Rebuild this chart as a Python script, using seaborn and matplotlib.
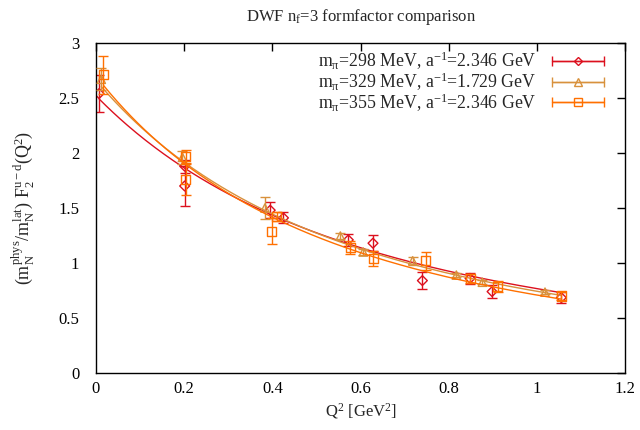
import numpy as np
import pandas as pd
import matplotlib
matplotlib.use("Agg")
import matplotlib.pyplot as plt
import matplotlib.ticker as ticker
import seaborn as sns
from matplotlib.lines import Line2D
from matplotlib.collections import LineCollection
from matplotlib.container import ErrorbarContainer
from matplotlib.legend_handler import HandlerErrorbar

# data (Q^2 in GeV^2, rescaled F2^{u-d})
q2_298 = [0.007, 0.201, 0.201, 0.395, 0.425, 0.572, 0.628, 0.740, 0.848, 0.898, 1.055]
f2_298 = [2.54, 1.88, 1.70, 1.48, 1.41, 1.21, 1.18, 0.84, 0.86, 0.74, 0.685]
err_298 = [0.17, 0.06, 0.18, 0.07, 0.05, 0.055, 0.07, 0.08, 0.05, 0.06, 0.05]

q2_329 = [0.012, 0.196, 0.383, 0.554, 0.606, 0.718, 0.817, 0.876, 1.018]
f2_329 = [2.67, 1.96, 1.50, 1.245, 1.10, 1.02, 0.89, 0.825, 0.735]
err_329 = [0.10, 0.06, 0.10, 0.03, 0.025, 0.035, 0.02, 0.02, 0.02]

q2_355 = [0.017, 0.203, 0.203, 0.398, 0.410, 0.576, 0.629, 0.748, 0.848, 0.911, 1.055]
f2_355 = [2.71, 1.97, 1.76, 1.29, 1.42, 1.14, 1.04, 1.02, 0.86, 0.79, 0.70]
err_355 = [0.17, 0.06, 0.14, 0.12, 0.04, 0.06, 0.065, 0.08, 0.04, 0.05, 0.04]

# dipole fit parameters F0 / (1 + Q^2/M^2)^2
fit_f0 = [2.52, 2.66, 2.70]
fit_m2 = [1.23, 1.12, 1.05]

labels = [
    r"m$_\mathregular{π}$=298 MeV, a$^\mathregular{-1}$=2.346 GeV",
    r"m$_\mathregular{π}$=329 MeV, a$^\mathregular{-1}$=1.729 GeV",
    r"m$_\mathregular{π}$=355 MeV, a$^\mathregular{-1}$=2.346 GeV",
]
colors = ["#dc101e", "#d8913c", "#ff7000"]
markers = ["D", "^", "s"]
msizes = [5.0, 6.0, 6.5]

sns.set_style("white")
plt.rcParams.update({
    "font.family": ["Liberation Serif", "DejaVu Serif"],
    "font.size": 12,
    "mathtext.fontset": "custom",
    "mathtext.rm": "Liberation Serif",
    "mathtext.it": "Liberation Serif:italic",
    "axes.linewidth": 1.0,
    "axes.edgecolor": "black",
})

fig = plt.figure(figsize=(6.4, 4.3), dpi=100)
ax = fig.add_axes([0.15, 0.1326, 0.827, 0.7674])

series = [(q2_298, f2_298, err_298), (q2_329, f2_329, err_329), (q2_355, f2_355, err_355)]
q2_max = max(max(s[0]) for s in series)

handles = []
for i, (q, f, e) in enumerate(series):
    c = colors[i]
    df = pd.DataFrame({"Q2": q, "F2": f, "err": e})
    ax.errorbar(df["Q2"], df["F2"], yerr=df["err"], fmt="none", ecolor=c,
                elinewidth=1.0, capsize=3.5, capthick=1.0, zorder=2 + i)
    sns.scatterplot(data=df, x="Q2", y="F2", ax=ax, marker=markers[i], s=msizes[i] ** 2,
                    facecolors="none", edgecolor=c, linewidth=1.0, zorder=2 + i, legend=False)
    qq = np.linspace(min(q), q2_max, 200)
    curve = pd.DataFrame({"Q2": qq, "F2": fit_f0[i] / (1 + qq / fit_m2[i]) ** 2})
    sns.lineplot(data=curve, x="Q2", y="F2", ax=ax, color=c, linewidth=1.0, zorder=2 + i)

    line = Line2D([], [], color=c, lw=1.0, marker=markers[i], ms=msizes[i] - 0.5,
                  mfc="none", mec=c, mew=1.0)
    cap = Line2D([], [], color=c, lw=1.0, ms=7, mew=1.0)
    bar = LineCollection([], colors=c, linewidths=1.0)
    handles.append(ErrorbarContainer((line, (cap,), (bar,)), has_xerr=True, has_yerr=False))

ax.set_xlim(0, 1.2)
ax.set_ylim(0, 3)
ax.xaxis.set_major_locator(ticker.MultipleLocator(0.2))
ax.yaxis.set_major_locator(ticker.MultipleLocator(0.5))
fmt = ticker.FuncFormatter(lambda v, p: "%g" % round(v, 3))
ax.xaxis.set_major_formatter(fmt)
ax.yaxis.set_major_formatter(fmt)
ax.tick_params(direction="in", top=True, right=True, length=6, width=1.0,
               labelsize=12, colors="black")
ax.tick_params(axis="y", pad=12)
ax.tick_params(axis="x", pad=6)

ax.set_xlabel(r"Q$^\mathregular{2}$ [GeV$^\mathregular{2}$]", fontsize=12, labelpad=3)
ax.set_ylabel(r"(m$_\mathregular{N}^\mathregular{phys}$/m$_\mathregular{N}^\mathregular{lat}$) "
              r"F$_\mathregular{2}^\mathregular{u-d}$(Q$^\mathregular{2}$)", fontsize=13, labelpad=16)
ax.set_title(r"DWF n$_\mathregular{f}$=3 formfactor comparison", fontsize=12, pad=16)

ax.legend(handles, labels, loc="upper right", bbox_to_anchor=(0.963, 0.985),
          frameon=False, markerfirst=False,
          handlelength=2.9, handletextpad=0.9, labelspacing=-0.08, borderpad=0.1,
          borderaxespad=0.0, fontsize=12.8,
          handler_map={ErrorbarContainer: HandlerErrorbar(xerr_size=1.45)})

fig.savefig("out.png", dpi=100)
